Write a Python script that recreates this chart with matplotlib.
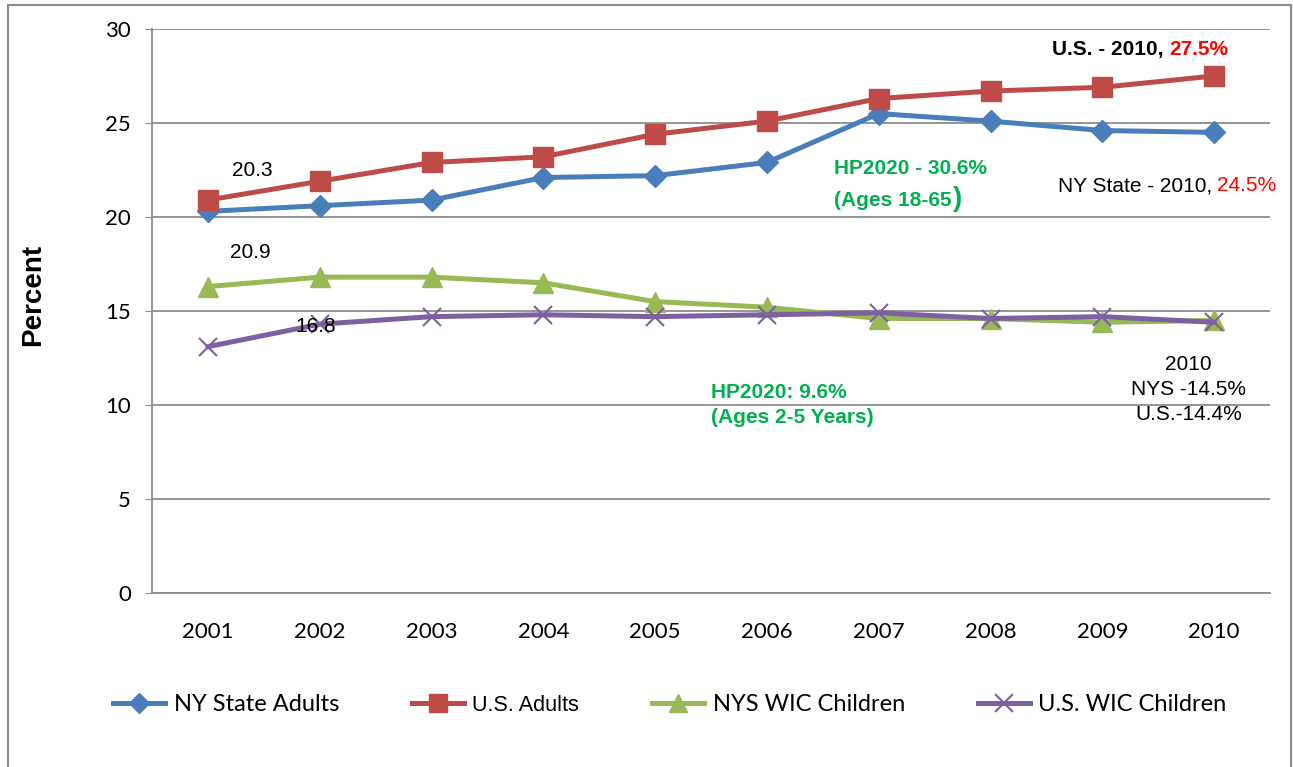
import numpy as np
import matplotlib
matplotlib.use('Agg')
import matplotlib.pyplot as plt
from matplotlib.patches import Rectangle

# data
years = ['2001', '2002', '2003', '2004', '2005', '2006', '2007', '2008', '2009', '2010']
ny_adults = [20.3, 20.6, 20.9, 22.1, 22.2, 22.9, 25.5, 25.1, 24.6, 24.5]
us_adults = [20.9, 21.9, 22.9, 23.2, 24.4, 25.1, 26.3, 26.7, 26.9, 27.5]
nys_wic = [16.3, 16.8, 16.8, 16.5, 15.5, 15.2, 14.6, 14.6, 14.4, 14.5]
us_wic = [13.1, 14.3, 14.7, 14.8, 14.7, 14.8, 14.9, 14.6, 14.7, 14.4]
yticks = [0, 5, 10, 15, 20, 25, 30]

blue = '#4A7EBB'
red = '#BE4B48'
green = '#98B954'
purple = '#7D60A0'
hp_green = '#00B050'

TICK_FONT = 'Lato'
ANN_FONT = 'Liberation Sans'

fig = plt.figure(figsize=(12.93, 7.67), dpi=100)
W, H = 1293.0, 767.0
ax = fig.add_axes([152 / W, (H - 593) / H, (1270 - 152) / W, (593 - 29) / H])

# outer chart border
fig.patches.append(Rectangle((8 / W, -0.05), (1291 - 8) / W, (H - 5) / H + 0.05,
                             transform=fig.transFigure, fill=False,
                             edgecolor='#8C8C8C', lw=1.5))

x = np.arange(len(years))
ax.plot(x, ny_adults, color=blue, lw=3.6, marker='D', ms=11, label='NY State Adults', zorder=4)
ax.plot(x, us_adults, color=red, lw=3.6, marker='s', ms=14, label='U.S. Adults', zorder=4)
ax.plot(x, nys_wic, color=green, lw=3.6, marker='^', ms=14, label='NYS WIC Children', zorder=3)
ax.plot(x, us_wic, color=purple, lw=3.6, marker='x', ms=13, mew=1.5, label='U.S. WIC Children', zorder=4)

ax.set_xlim(-0.5, len(years) - 0.5)
ax.set_ylim(0, 30)
ax.set_yticks(yticks)
ax.set_xticks(x)
ax.set_xticklabels(years)
ax.tick_params(axis='x', length=0, pad=21, labelsize=16)
ax.tick_params(axis='y', length=5, color='#8C8C8C', pad=10, labelsize=16)
for lab in ax.get_xticklabels() + ax.get_yticklabels():
    lab.set_fontfamily(TICK_FONT)

ax.grid(axis='y', color='#8C8C8C', lw=1.3)
ax.set_axisbelow(True)
for s in ['top', 'right']:
    ax.spines[s].set_visible(False)
for s in ['left', 'bottom']:
    ax.spines[s].set_color('#8C8C8C')
    ax.spines[s].set_linewidth(1.3)

ax.set_ylabel('Percent', fontfamily=ANN_FONT, fontweight='bold', fontsize=20)
ax.yaxis.set_label_coords(-0.095, 0.528)

# annotations
ax.text(0.4, 22.5, '20.3', fontfamily=ANN_FONT, fontsize=15, ha='center', va='center')
ax.text(0.38, 18.1, '20.9', fontfamily=ANN_FONT, fontsize=15, ha='center', va='center')
ax.text(0.96, 14.15, '16.8', fontfamily=ANN_FONT, fontsize=15, ha='center', va='center', zorder=5)

ax.text(8.6, 28.9, 'U.S. - 2010, ', fontfamily=ANN_FONT, fontsize=15, fontweight='bold',
        ha='right', va='center')
ax.text(8.6, 28.9, '27.5%', fontfamily=ANN_FONT, fontsize=15, fontweight='bold',
        color='red', ha='left', va='center')

ax.text(5.6, 22.6, 'HP2020 - 30.6%', fontfamily=ANN_FONT, fontsize=15, fontweight='bold',
        color=hp_green, ha='left', va='center')
ax.text(5.6, 20.9, '(Ages 18-65', fontfamily=ANN_FONT, fontsize=15, fontweight='bold',
        color=hp_green, ha='left', va='center')
ax.text(6.66, 20.95, ')', fontfamily=ANN_FONT, fontsize=20, fontweight='bold',
        color=hp_green, ha='left', va='center')

ax.text(9.03, 21.65, 'NY State - 2010, ', fontfamily=ANN_FONT, fontsize=15,
        ha='right', va='center')
ax.text(9.03, 21.65, '24.5%', fontfamily=ANN_FONT, fontsize=15, color='red',
        ha='left', va='center')

ax.text(4.5, 10.64, 'HP2020: 9.6%', fontfamily=ANN_FONT, fontsize=15, fontweight='bold',
        color=hp_green, ha='left', va='center')
ax.text(4.5, 9.36, '(Ages 2-5 Years)', fontfamily=ANN_FONT, fontsize=15, fontweight='bold',
        color=hp_green, ha='left', va='center')

ax.text(8.77, 12.15, '2010', fontfamily=ANN_FONT, fontsize=15, ha='center', va='center')
ax.text(8.77, 10.8, 'NYS -14.5%', fontfamily=ANN_FONT, fontsize=15, ha='center', va='center')
ax.text(8.77, 9.5, 'U.S.-14.4%', fontfamily=ANN_FONT, fontsize=15, ha='center', va='center')

leg = fig.legend(loc='center', bbox_to_anchor=(670 / W, (H - 705) / H), ncol=4,
                 frameon=False, fontsize=17, handlelength=2.2, handletextpad=0.35,
                 columnspacing=3.1, markerscale=0.95)
for t in leg.get_texts():
    t.set_fontfamily(TICK_FONT)
leg.get_texts()[1].set_fontfamily(ANN_FONT)
leg.get_texts()[1].set_fontsize(15.5)

fig.savefig('out.png', dpi=100)
